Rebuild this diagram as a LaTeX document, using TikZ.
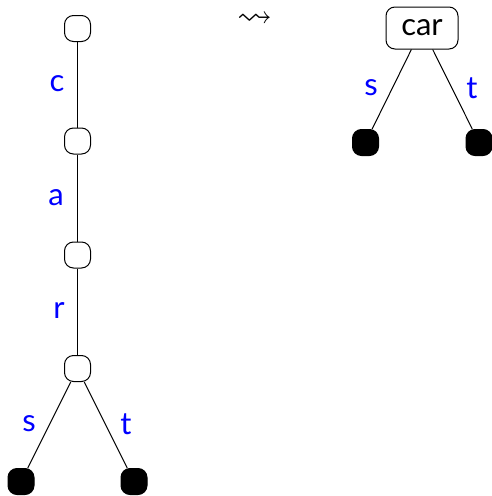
\documentclass[tikz,border=0pt]{standalone}
\usepackage{amssymb}
\usepackage{fontspec}
\setmainfont{Lato}

\tikzset{
  inner/.style={draw, rounded corners=9pt, minimum size=26pt, inner sep=0pt},
  leaf/.style={inner, fill=black},
  lbl/.style={text=blue, font=\fontsize{31}{31}\selectfont},
}

\begin{document}
\begin{tikzpicture}[x=1pt, y=-1pt, line width=1pt]
  \useasboundingbox (0,0) rectangle (492,496);
  % trie before compression
  \node[inner] (n0) at (77.5,28.5) {};
  \node[inner] (n1) at (77.5,141) {};
  \node[inner] (n2) at (77.5,255) {};
  \node[inner] (n3) at (77.5,368.5) {};
  \node[leaf] (ls) at (21,481.5) {};
  \node[leaf] (lt) at (134,481.5) {};
  \draw (n0) -- (n1) -- (n2) -- (n3);
  \draw (n3) -- (ls);
  \draw (n3) -- (lt);
  \node[lbl] (lc) at (57,84) {c};
  \node[lbl] (la) at (56,198) {a};
  \node[lbl] (lr) at (59,311) {r};
  \node[lbl] (ls1) at (29,424) {s};
  \node[lbl] (lt1) at (126,424) {t};
  % arrow
  \node[inner sep=0pt] (arr) at (255,20) {\fontsize{35}{35}\selectfont$\leadsto$};
  % compressed trie
  \node[draw, rounded corners=9pt, minimum height=42pt, minimum width=72pt,
        inner sep=0pt, font=\fontsize{31}{31}\selectfont] (car) at (422,28) {car};
  \node[leaf] (rs) at (365.5,142.5) {};
  \node[leaf] (rt) at (479,142.5) {};
  \draw (car) -- (rs);
  \draw (car) -- (rt);
  \node[lbl] (rls) at (371,88) {s};
  \node[lbl] (rlt) at (472,88) {t};
\end{tikzpicture}
\end{document}
